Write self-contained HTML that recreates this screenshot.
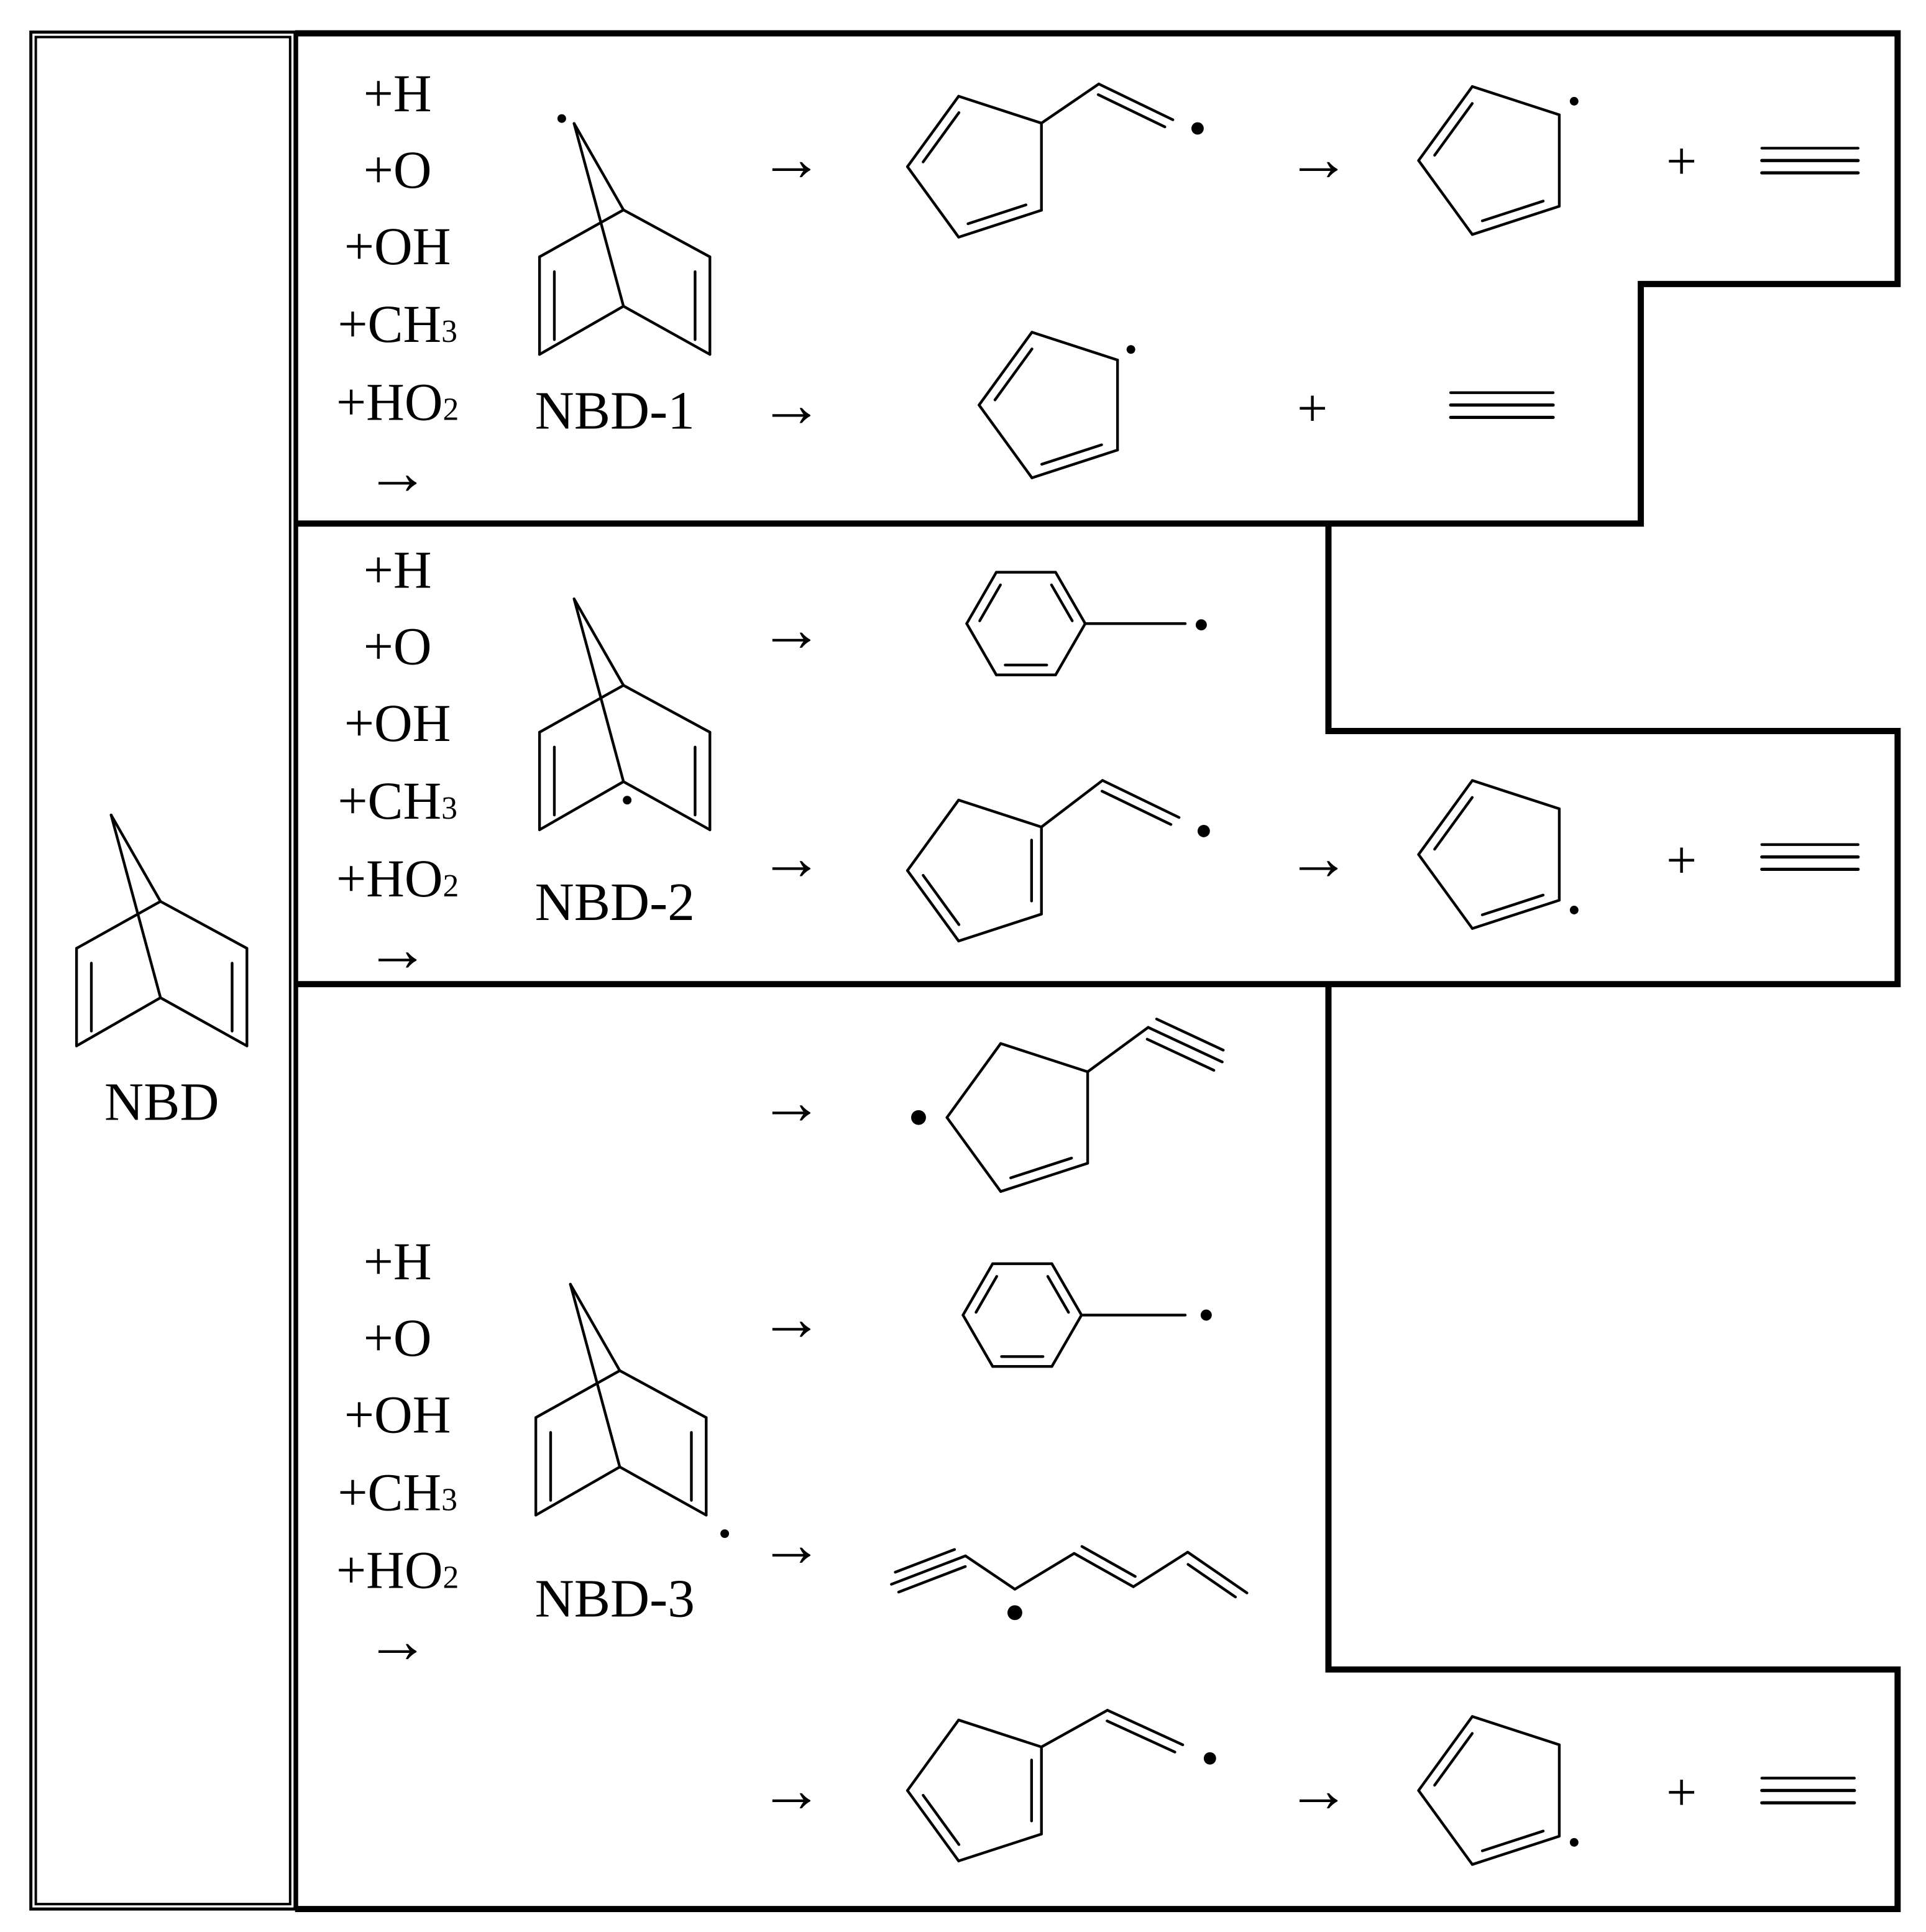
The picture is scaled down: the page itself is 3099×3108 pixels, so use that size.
<!DOCTYPE html>
<html><head><meta charset="utf-8">
<style>
html,body{margin:0;padding:0;background:#fff;}
svg{display:block;}
text{font-family:"Liberation Serif",serif;fill:#000;}
</style></head>
<body>
<svg id="s" width="3099" height="3108" viewBox="0 0 1560 1564.6" preserveAspectRatio="none" xmlns="http://www.w3.org/2000/svg">
<rect x="0" y="0" width="1560" height="1565" fill="#fff"/>
<rect x="25" y="26" width="214" height="1520" fill="none" stroke="#000" stroke-width="2.5"/>
<rect x="29" y="30" width="206" height="1512" fill="none" stroke="#000" stroke-width="2"/>
<g fill="none" stroke="#000" stroke-width="5" stroke-linejoin="miter">
<path d="M239,27 H1537 V230 H1329 V424 H239"/>
<path d="M1076,424 V592 H1537 V797 H239"/>
<path d="M1076,797 V1352 H1537 V1546 H239"/>
<line x1="240" y1="27" x2="240" y2="1546" stroke-width="3"/>
</g>
<g font-size="43" text-anchor="middle">
<text x="322" y="90">+H</text><text x="322" y="152">+O</text><text x="322" y="214">+OH</text>
<text x="322" y="277">+CH<tspan font-size="26">3</tspan></text><text x="322" y="340">+HO<tspan font-size="26">2</tspan></text>
<text x="322" y="476">+H</text><text x="322" y="538">+O</text><text x="322" y="600">+OH</text>
<text x="322" y="663">+CH<tspan font-size="26">3</tspan></text><text x="322" y="726">+HO<tspan font-size="26">2</tspan></text>
<text x="322" y="1036">+H</text><text x="322" y="1098">+O</text><text x="322" y="1160">+OH</text>
<text x="322" y="1223">+CH<tspan font-size="26">3</tspan></text><text x="322" y="1286">+HO<tspan font-size="26">2</tspan></text>
<text x="498" y="347" font-size="44">NBD-1</text><text x="498" y="745" font-size="44">NBD-2</text><text x="498" y="1309" font-size="44">NBD-3</text>
<text x="131" y="907" font-size="44">NBD</text>
</g>
<g font-size="52" text-anchor="middle">
<text x="322" y="400">→</text><text x="322" y="786">→</text><text x="322" y="1346">→</text>
<text x="641" y="146">→</text><text x="1068" y="146">→</text>
<text x="641" y="345">→</text>
<text x="641" y="527">→</text>
<text x="641" y="712">→</text><text x="1068" y="712">→</text>
<text x="641" y="910">→</text>
<text x="641" y="1085">→</text>
<text x="641" y="1268">→</text>
<text x="641" y="1467">→</text><text x="1068" y="1467">→</text>
</g>
<g font-size="44" text-anchor="middle">
<text x="1362" y="145">+</text><text x="1063" y="345">+</text>
<text x="1362" y="711">+</text><text x="1362" y="1466">+</text>
</g>
<g id="mol" stroke="#000" stroke-width="2.2" fill="none" stroke-linecap="round"></g>
<g id="dots" fill="#000"></g>
</svg>
<script>
var mol=document.getElementById('mol'),dots=document.getElementById('dots');
var NS='http://www.w3.org/2000/svg';
function L(a,b,w){var e=document.createElementNS(NS,'line');e.setAttribute('x1',a[0]);e.setAttribute('y1',a[1]);e.setAttribute('x2',b[0]);e.setAttribute('y2',b[1]);if(w)e.setAttribute('stroke-width',w);mol.appendChild(e);}
function D(x,y,r){var e=document.createElementNS(NS,'circle');e.setAttribute('cx',x);e.setAttribute('cy',y);e.setAttribute('r',r||4);dots.appendChild(e);}
function inner(a,b,c,off,sh){off=off||8;sh=sh||0.15;
 var mx=(a[0]+b[0])/2,my=(a[1]+b[1])/2,dx=b[0]-a[0],dy=b[1]-a[1],len=Math.hypot(dx,dy);
 var nx=-dy/len,ny=dx/len; if((c[0]-mx)*nx+(c[1]-my)*ny<0){nx=-nx;ny=-ny;}
 L([a[0]+dx*sh+nx*off,a[1]+dy*sh+ny*off],[b[0]-dx*sh+nx*off,b[1]-dy*sh+ny*off]);}
function side(a,b,s,off,sh){off=off||8;sh=sh||0.05;var dx=b[0]-a[0],dy=b[1]-a[1],len=Math.hypot(dx,dy);var nx=-dy/len*s*off,ny=dx/len*s*off;
 L([a[0]+dx*sh+nx,a[1]+dy*sh+ny],[b[0]-dx*sh+nx,b[1]-dy*sh+ny]);}
function pent(cx,cy,r){var v=[],ang=[180,252,324,36,108];
 for(var i=0;i<5;i++){var t=ang[i]*Math.PI/180;v.push([cx+r*Math.cos(t),cy+r*Math.sin(t)]);}
 for(i=0;i<5;i++)L(v[i],v[(i+1)%5]);return v;}
function hexa(cx,cy,r){var v=[];for(var i=0;i<6;i++){var t=(180+60*i)*Math.PI/180;v.push([cx+r*Math.cos(t),cy+r*Math.sin(t)]);}
 for(i=0;i<6;i++)L(v[i],v[(i+1)%6]);
 var c=[cx,cy];inner(v[0],v[1],c);inner(v[2],v[3],c);inner(v[4],v[5],c);return v;}
function nbd(x,y){var A=[x-40,y-70],T=[x,y],B=[x,y+78],lt=[x-68,y+38],lb=[x-68,y+117],rt=[x+70,y+38],rb=[x+70,y+117];
 L(A,T);L(A,B);L(T,lt);L(T,rt);L(B,lb);L(B,rb);L(lt,lb);L(rt,rb);
 L([lt[0]+12,lt[1]+12],[lb[0]+12,lb[1]-12]);L([rt[0]-12,rt[1]+12],[rb[0]-12,rb[1]-12]);}
function triple(x1,x2,y){L([x1,y-10],[x2,y-10]);L([x1,y],[x2,y],2.6);L([x1,y+10],[x2,y+10],2.6);}
nbd(130,730);nbd(505,170);D(455,96,3.5);
nbd(505,555);D(508,648,3.5);
nbd(502,1110);D(587,1242,3.5);
var v,c;
c=[795,135];v=pent(795,135,60);inner(v[0],v[1],c);inner(v[3],v[4],c);
L(v[2],[890,68]);L([890,68],[950,97]);side([890,68],[950,97],1,8);D(970,104,5);
c=[1212,130];v=pent(1212,130,63);inner(v[0],v[1],c);inner(v[3],v[4],c);D(1275,82,3.5);
triple(1427,1505,130);
c=[855,328];v=pent(855,328,62);inner(v[0],v[1],c);inner(v[3],v[4],c);D(916,283,3.5);
triple(1175,1258,328);
v=hexa(831,505,48);L(v[3],[960,505]);D(973,506,4.5);
c=[795,705];v=pent(795,705,60);inner(v[4],v[0],c);inner(v[2],v[3],c);
L(v[2],[893,632]);L([893,632],[955,662]);side([893,632],[955,662],1,8);D(975,673,5);
c=[1212,692];v=pent(1212,692,63);inner(v[0],v[1],c);inner(v[3],v[4],c);D(1275,737,3.5);
triple(1427,1505,694);
c=[830,905];v=pent(830,905,63);inner(v[3],v[4],c);D(744,905,6);
L(v[2],[930,832]);L([930,832],[990,860]);side([930,832],[990,860],1,9);side([930,832],[990,860],-1,9);
v=hexa(828,1065,48);L(v[3],[960,1065]);D(977,1065,4.5);
var p=[[722,1283],[782,1260],[822,1287],[870,1258],[918,1285],[962,1257],[1010,1290]];
L(p[0],p[1]);side(p[0],p[1],1,8,0);side(p[0],p[1],-1,8,0.1);
L(p[1],p[2]);L(p[2],p[3]);L(p[3],p[4]);side(p[3],p[4],-1,8,0.05);L(p[4],p[5]);L(p[5],p[6]);side(p[5],p[6],1,8,0.1);
D(822,1306,6);
c=[795,1450];v=pent(795,1450,60);inner(v[4],v[0],c);inner(v[2],v[3],c);
L(v[2],[897,1385]);L([897,1385],[958,1413]);side([897,1385],[958,1413],1,8);D(980,1424,5);
c=[1212,1450];v=pent(1212,1450,63);inner(v[0],v[1],c);inner(v[3],v[4],c);D(1275,1492,3.5);
triple(1427,1502,1450);
</script>
</body></html>
